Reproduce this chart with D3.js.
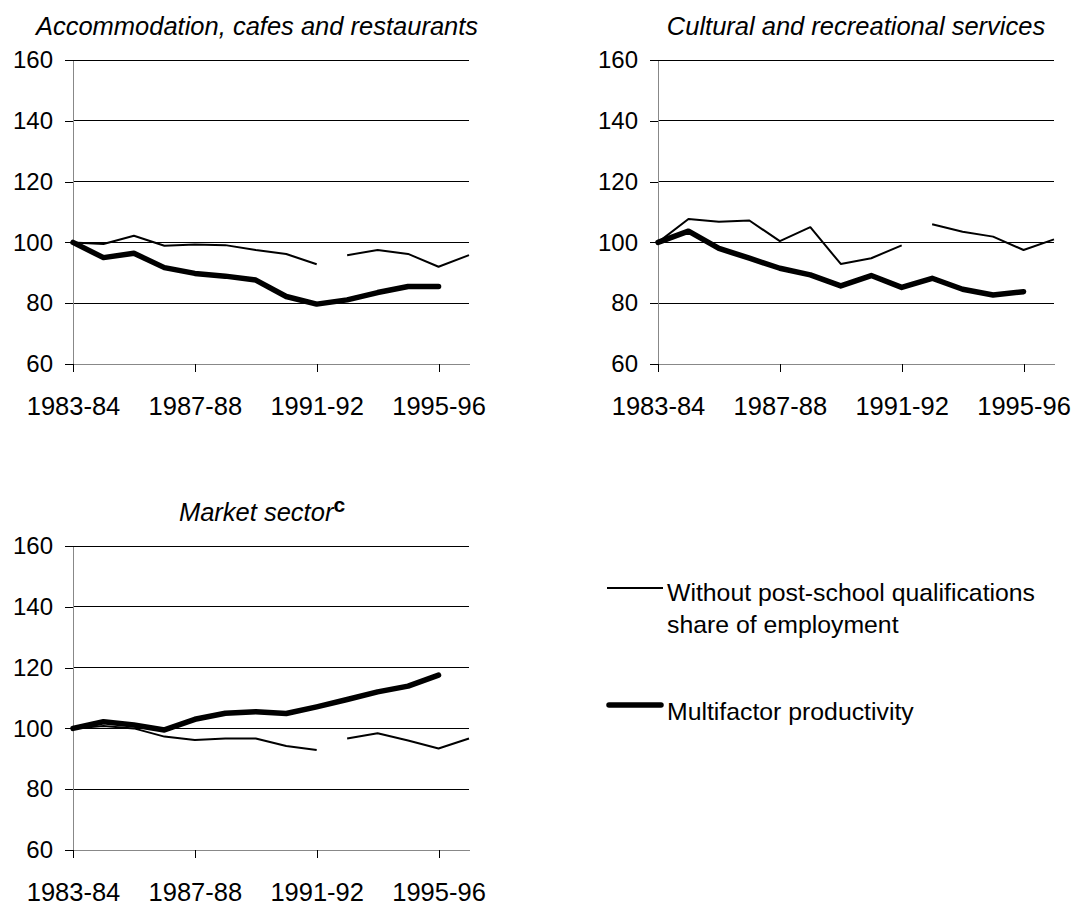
<!DOCTYPE html>
<html>
<head>
<meta charset="utf-8">
<script src="https://cdn.jsdelivr.net/npm/d3@7"></script>
<style>
  body { margin: 0; background: #fff; }
  svg { font-family: "Liberation Sans", Arial, sans-serif; }
</style>
</head>
<body>
<div id="chart"></div>
<script>
// data (index 1983-84 = 100)
var years = ["1983-84","1984-85","1985-86","1986-87","1987-88","1988-89","1989-90",
             "1990-91","1991-92","1992-93","1993-94","1994-95","1995-96","1996-97"];
var xTickLabels = ["1983-84","1987-88","1991-92","1995-96"];
var yTicks = [60, 80, 100, 120, 140, 160];
// the qualifications series is not joined between these two years
var seriesBreak = ["1991-92","1992-93"];

var accomNoQual  = [100, 99.5, 102.2, 98.9, 99.3, 99.1, 97.5, 96.2, 92.8, 95.8, 97.5, 96.2, 92.0, 95.8];
var accomMfp     = [100, 95.0, 96.4, 91.7, 89.8, 88.9, 87.6, 82.2, 79.7, 81.1, 83.5, 85.5, 85.5, null];
var cultNoQual   = [100, 107.7, 106.8, 107.2, 100.4, 105.0, 92.9, 94.8, 99.0, 106.0, 103.5, 101.9, 97.5, 101.0];
var cultMfp      = [100, 103.7, 98.0, 94.8, 91.5, 89.3, 85.7, 89.1, 85.2, 88.2, 84.6, 82.7, 83.8, null];
var marketNoQual = [100, 100.8, 100.0, 97.3, 96.2, 96.7, 96.7, 94.2, 92.9, 96.7, 98.4, 96.0, 93.4, 96.7];
var marketMfp    = [100, 102.2, 101.1, 99.5, 103.0, 105.0, 105.5, 104.9, 107.1, 109.5, 112.0, 113.9, 117.5, null];

var legendLabels = [["Without post-school qualifications", "share of employment"], ["Multifactor productivity"]];

var panels = [
  {title: "Accommodation, cafes and restaurants", sup: "", noQual: accomNoQual, mfp: accomMfp, left: 73, top: 60, tdx: -14},
  {title: "Cultural and recreational services", sup: "", noQual: cultNoQual, mfp: cultMfp, left: 658, top: 60, tdx: 0},
  {title: "Market sector", sup: "c", noQual: marketNoQual, mfp: marketMfp, left: 73, top: 546, tdx: -9}
];

var W = 1074, H = 906;
var pw = 396, ph = 304;

var svg = d3.select("#chart").append("svg").attr("width", W).attr("height", H);

var x = d3.scalePoint().domain(years).range([0, pw]);
var y = d3.scaleLinear().domain([60, 160]).range([ph, 0]);

var line = d3.line()
  .defined(function(d){ return d.v != null; })
  .x(function(d){ return x(d.year); })
  .y(function(d){ return y(d.v); });

panels.forEach(function(p){
  var g = svg.append("g").attr("transform", "translate(" + p.left + "," + p.top + ")");

  // gridlines
  g.selectAll("line.grid").data(yTicks.filter(function(t){ return t > 60; })).enter().append("line")
    .attr("class", "grid")
    .attr("x1", 0).attr("x2", pw)
    .attr("y1", function(d){ return y(d); }).attr("y2", function(d){ return y(d); })
    .attr("stroke", "#000").attr("stroke-width", 1)
    .style("shape-rendering", "crispEdges");

  var ya = g.append("g").call(d3.axisLeft(y).tickValues(yTicks).tickSize(8).tickSizeOuter(0).tickPadding(12));
  ya.select(".domain").attr("stroke", "#888");
  ya.selectAll(".tick line").attr("stroke", "#000");
  ya.selectAll("text").style("font-size", "24px").attr("fill", "#000");

  var xa = g.append("g").attr("transform", "translate(0," + ph + ")")
    .call(d3.axisBottom(x).tickValues(xTickLabels).tickSize(8).tickSizeOuter(0));
  xa.select(".domain").attr("stroke", "#888");
  xa.selectAll(".tick line").attr("stroke", "#000");
  xa.selectAll("text").style("font-size", "25.5px").attr("fill", "#000")
    .attr("dy", null).attr("y", 51);

  ya.selectAll("path, line").style("shape-rendering", "crispEdges");
  xa.selectAll("path, line").style("shape-rendering", "crispEdges");

  // thin series, split at the break
  var nq = years.map(function(yr, i){ return {year: yr, v: p.noQual[i]}; });
  var cut = years.indexOf(seriesBreak[1]);
  [nq.slice(0, cut), nq.slice(cut)].forEach(function(seg){
    g.append("path").datum(seg).attr("d", line)
      .attr("fill", "none").attr("stroke", "#000").attr("stroke-width", 2)
      .attr("stroke-linejoin", "round");
  });

  var mf = years.map(function(yr, i){ return {year: yr, v: p.mfp[i]}; });
  g.append("path").datum(mf).attr("d", line)
    .attr("fill", "none").attr("stroke", "#000").attr("stroke-width", 5.5)
    .attr("stroke-linejoin", "round").attr("stroke-linecap", "round");

  var t = g.append("text")
    .attr("x", pw / 2 + p.tdx).attr("y", -25)
    .attr("text-anchor", "middle")
    .style("font-size", "25.5px").style("font-style", "italic")
    .text(p.title);
  if (p.sup) {
    t.append("tspan").attr("dy", -9).style("font-size", "21px")
      .style("font-style", "normal").style("font-weight", "bold").text(p.sup);
  }
});

// legend
var lg = svg.append("g").attr("transform", "translate(607,0)");
lg.append("line").attr("x1", 0).attr("x2", 56).attr("y1", 588).attr("y2", 588)
  .attr("stroke", "#000").attr("stroke-width", 2);
lg.append("line").attr("x1", 2).attr("x2", 54).attr("y1", 705).attr("y2", 705)
  .attr("stroke", "#000").attr("stroke-width", 5.5).attr("stroke-linecap", "round");

var lt = [601, 720];
legendLabels.forEach(function(lines, i){
  var tx = lg.append("text").attr("x", 60).attr("y", lt[i]).style("font-size", "24.8px");
  lines.forEach(function(s, j){
    tx.append("tspan").attr("x", 60).attr("dy", j === 0 ? 0 : 32).text(s);
  });
});
</script>
</body>
</html>
